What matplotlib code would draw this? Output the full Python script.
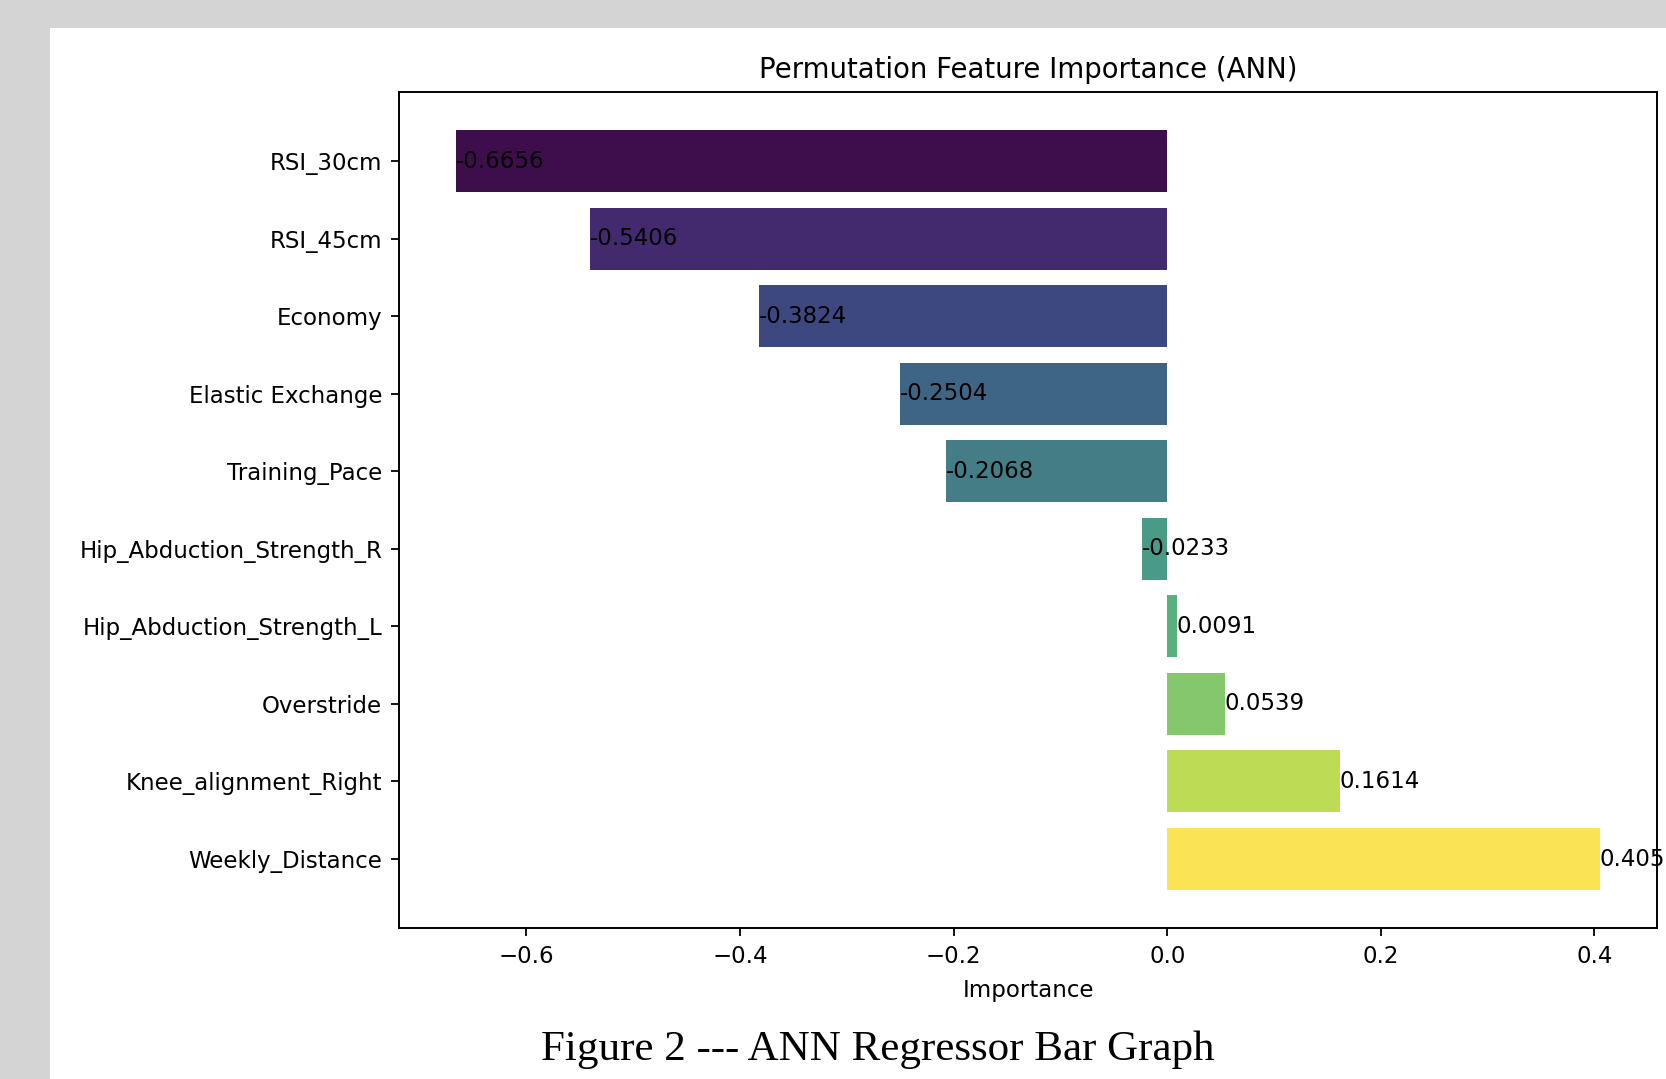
import matplotlib.pyplot as plt
from matplotlib.patches import Rectangle

features = ['RSI_30cm', 'RSI_45cm', 'Economy', 'Elastic Exchange', 'Training_Pace',
            'Hip_Abduction_Strength_R', 'Hip_Abduction_Strength_L', 'Overstride',
            'Knee_alignment_Right', 'Weekly_Distance']
importance = [-0.6656, -0.5406, -0.3824, -0.2504, -0.2068,
              -0.0233, 0.0091, 0.0539, 0.1614, 0.405]

# viridis as it appears in the screenshot (slightly muted)
bar_colors = ['#3e0d4c', '#432a6e', '#3e4880', '#3f6584', '#457d86',
              '#4a9a88', '#58b07f', '#84c76c', '#bedb55', '#fae354']

fs = 16.5
fig = plt.figure(figsize=(16.66, 10.79), dpi=100)
fig.patch.set_facecolor('#d4d4d4')
# white document page behind the chart
fig.patches.append(Rectangle((0.030, 0), 0.97, 0.974, transform=fig.transFigure,
                             facecolor='white', edgecolor='none', zorder=-5))

ax = fig.add_axes([0.2395, 0.1399, 0.7551, 0.7748])
ax.set_zorder(2)
ax.barh(features, importance, color=bar_colors, height=0.8)
ax.invert_yaxis()

for i, v in enumerate(importance):
    ax.text(v, i, str(round(v, 4)), va='center', ha='left', fontsize=fs, clip_on=False)

ax.set_title('Permutation Feature Importance (ANN)', fontsize=fs * 1.2, pad=10)
ax.set_xlabel('Importance', fontsize=fs, labelpad=8)
ax.tick_params(labelsize=fs, length=6, width=1.3, pad=6)
for s in ax.spines.values():
    s.set_linewidth(1.4)

fig.text(0.527, 0.018, 'Figure 2 --- ANN Regressor Bar Graph', ha='center', va='baseline',
         fontsize=31, family='Liberation Serif')

fig.savefig('out.png', dpi=100, facecolor=fig.get_facecolor())
